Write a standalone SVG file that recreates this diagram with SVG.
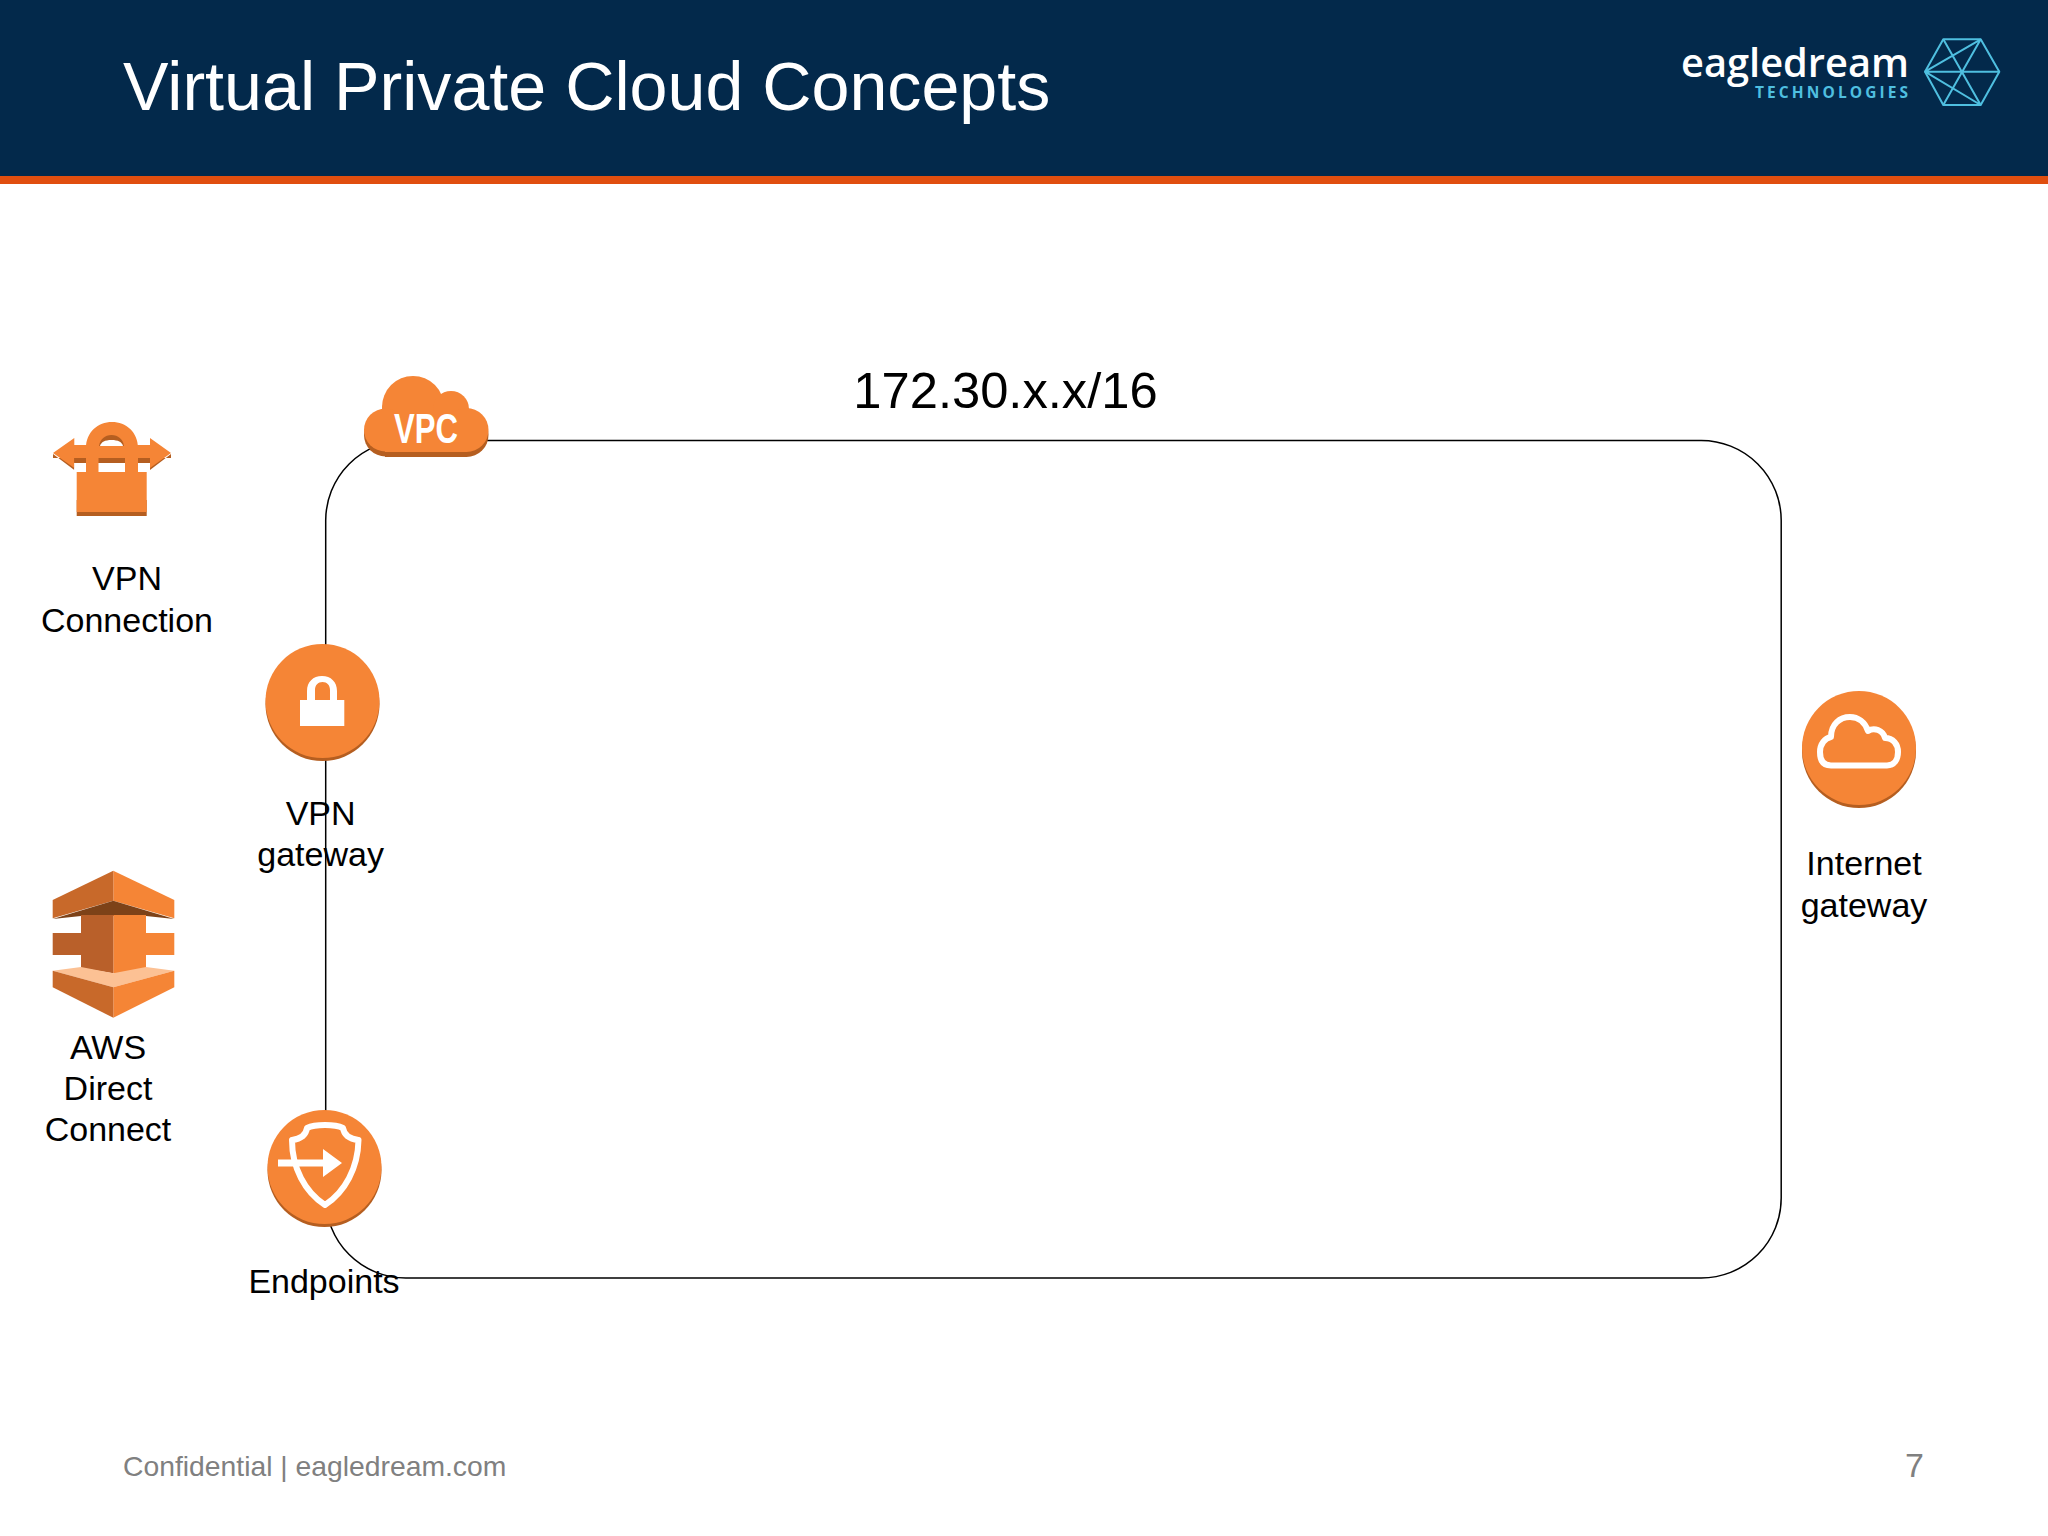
<svg xmlns="http://www.w3.org/2000/svg" xmlns:xlink="http://www.w3.org/1999/xlink" width="2048" height="1536" viewBox="0 0 2048 1536">
<style>
text{font-family:"Liberation Sans",Arial,sans-serif}
.lbl{font-size:34px;fill:#000;text-anchor:middle}
.foot{font-size:28.300px;fill:#808080}
.o{fill:#f58536}.d{fill:#b55e20}.m{fill:#c8692a}.w{fill:#fff}
.ws{fill:none;stroke:#fff;stroke-linejoin:round;stroke-linecap:round}
.hex{fill:none;stroke:#4fbfe0;stroke-width:2;stroke-linejoin:round}
</style>
<defs>
<g id="cloudVpc"><circle cx="413" cy="407" r="31"/><circle cx="451" cy="409" r="18"/><circle cx="466.500" cy="430" r="22"/><circle cx="385.500" cy="430" r="21.500"/><rect x="385" y="412" width="82" height="40"/></g>
</defs>
<rect width="2048" height="1536" fill="#fff"/>
<g id="header">
<rect width="2048" height="176" fill="#03294b"/>
<rect y="176" width="2048" height="8" fill="#e04e0f"/>
<text x="123" y="110" font-size="68.200" fill="#fff">Virtual Private Cloud Concepts</text>
</g>
<g id="logo">
<text x="1681" y="77" font-size="40" font-weight="600" fill="#fff" style="font-family:'Open Sans',sans-serif" textLength="228" lengthAdjust="spacingAndGlyphs">eagledream</text>
<text x="1755" y="98" font-size="15.500" font-weight="700" fill="#4fbfe0" style="font-family:'Open Sans',sans-serif" textLength="153" lengthAdjust="spacing">TECHNOLOGIES</text>
<polygon class="hex" points="1925,71.700 1943.300,39.300 1980.700,39.300 1999.300,71.700 1980.700,105 1943.300,105"/>
<path class="hex" d="M1925 71.700H1999.300M1943.300 39.300L1980.700 105M1980.700 39.300L1943.300 105M1925 71.700L1980.700 39.300M1925 71.700L1980.700 105"/>
</g>
<g id="connectors">
<rect id="vpc-boundary" x="325.700" y="440.500" width="1455.500" height="837.500" rx="80" ry="80" fill="none" stroke="#000" stroke-width="1.500"/>
</g>
<g id="vpc-cloud">
<use xlink:href="#cloudVpc" href="#cloudVpc" class="d" transform="translate(0,5)"/>
<use xlink:href="#cloudVpc" href="#cloudVpc" class="o"/>
<text x="394" y="443" font-size="43" font-weight="700" fill="#fff" textLength="64" lengthAdjust="spacingAndGlyphs">VPC</text>
</g>
<g id="cidr"><text x="1005.500" y="408" font-size="50.700" text-anchor="middle" fill="#000">172.30.x.x/16</text></g>
<g id="vpn-connection">
<path class="d" d="M53 454L74.300 470V462.700H150V470L171 454V458H53Z"/>
<rect class="d" x="76.700" y="500" width="70" height="16"/>
<path class="o" d="M53 453L74.300 438V445H86V448C86 432 98 422 112 422C126 422 138 432 138 448V445H150V438L171 453L150 468V458H53H74.300V468Z"/>
<rect class="d" x="74.300" y="458" width="75.700" height="5"/>
<rect class="w" x="74.300" y="463" width="11.700" height="9"/><rect class="w" x="98.500" y="463" width="26.500" height="9"/><rect class="w" x="138" y="463" width="12" height="9"/>
<rect class="o" x="86" y="458" width="12.500" height="14"/><rect class="o" x="125" y="458" width="13" height="14"/>
<path class="o" d="M76.700 472H146.700V512H76.700Z"/>
<path class="o" d="M98.500 445H86V458H138V445H125V458H98.500Z"/>
<path class="d" d="M99 446C100 439 105 435 111.500 435C118 435 123 439 124 446Z"/>
<path class="w" d="M100 446C101 442 105 440 111.500 440C118 440 122 442 123 446Z"/>
<text class="lbl" x="127" y="590">VPN</text>
<text class="lbl" x="127" y="632">Connection</text>
</g>
<g id="direct-connect">
<path fill="#f58536" d="M113.300 870.700L174.300 900V918.300L113.300 900.700Z"/>
<path fill="#c8692a" d="M113.300 870.700L52.700 900V918.300L113.300 900.700Z"/>
<path fill="#7d4218" d="M52.700 919L113.300 900.700L174.300 919L146 916H81Z"/>
<path fill="#f58536" d="M113.300 915H146V933H174.300V955H146V973L113.300 973.300Z"/>
<path fill="#b9602a" d="M113.300 915H81V933H52.700V955H81V968L113.300 973.300Z"/>
<path fill="#fcc194" d="M52.700 970.700L81 967L113.300 973.300L146 967L174.300 970.700L113.300 987.300Z"/>
<path fill="#f58536" d="M113.300 987.300L174.300 970.700V987.300L113.300 1017.700Z"/>
<path fill="#c8692a" d="M113.300 987.300L52.700 970.700V987.300L113.300 1017.700Z"/>
<text class="lbl" x="108" y="1059">AWS</text>
<text class="lbl" x="108" y="1100">Direct</text>
<text class="lbl" x="108" y="1141">Connect</text>
</g>
<g id="vpn-gateway">
<circle class="d" cx="322.500" cy="704" r="57"/>
<circle class="o" cx="322.500" cy="701" r="57"/>
<path class="w" fill-rule="evenodd" d="M300 700H307V691C307 682 313 676 322 676C331 676 337 682 337 691V700H344.300V726H300ZM315 700H330V690C330 685 327 682 322.500 682C318 682 315 685 315 690Z"/>
<text class="lbl" x="320.600" y="825">VPN</text>
<text class="lbl" x="320.600" y="866">gateway</text>
</g>
<g id="endpoints">
<circle class="d" cx="324.500" cy="1170" r="57"/>
<circle class="o" cx="324.500" cy="1167" r="57"/>
<path class="ws" stroke-width="6" d="M325 1125C316 1125 311 1126 307 1128C306 1135 300 1139 292 1140C292 1168 305 1192 325 1205C345 1192 358 1168 358.500 1140C350 1139 344 1135 343 1128C339 1126 334 1125 325 1125Z"/>
<path class="w" d="M278 1159.500H323V1149L342 1163L323 1177V1166.500H278Z"/>
<text class="lbl" x="324" y="1293">Endpoints</text>
</g>
<g id="internet-gateway">
<circle class="d" cx="1859" cy="751" r="57"/>
<circle class="o" cx="1859" cy="748" r="57"/>
<path class="ws" stroke-width="6" d="M1831 765.500C1822 765.500 1820 759 1820 752C1820 744 1825 738 1831 737C1831 724 1840 717 1850 717C1858 717 1865 722 1868 731C1874 727 1883 730 1885 738C1893 738 1898 744 1898 752C1898 760 1894 765.500 1887 765.500Z"/>
<text class="lbl" x="1864" y="875">Internet</text>
<text class="lbl" x="1864" y="917">gateway</text>
</g>
<g id="footer">
<text class="foot" x="123" y="1476">Confidential | eagledream.com</text>
<text class="foot" x="1905" y="1477" style="font-size:34px">7</text>
</g>
</svg>
